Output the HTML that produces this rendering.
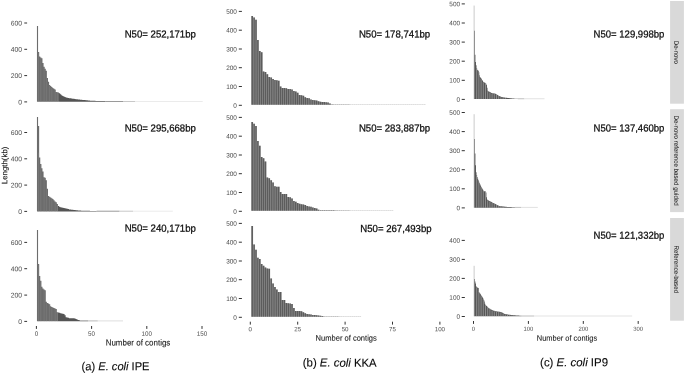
<!DOCTYPE html>
<html lang="en"><head><meta charset="utf-8"><title>Contig length distributions</title>
<style>html,body{margin:0;padding:0;background:#fff}body{width:685px;height:374px;overflow:hidden}svg{display:block}text{font-family:"Liberation Sans", Arial, Helvetica, sans-serif;text-rendering:geometricPrecision}.yt{fill:#4d4d4d;text-anchor:end}.xt{fill:#4d4d4d;text-anchor:middle}.ax{fill:#1a1a1a;text-anchor:middle;stroke:#1a1a1a;stroke-width:.1px}.n50{font-size:10.2px;fill:#0a0a0a;stroke:#0a0a0a;stroke-width:.25px}.cap{font-size:11.7px;fill:#0a0a0a;stroke:#0a0a0a;stroke-width:.12px}.st{font-size:6.2px;fill:#1a1a1a;text-anchor:middle;stroke:#1a1a1a;stroke-width:.08px}</style></head><body>
<svg width="685" height="374" viewBox="0 0 685 374">
<rect width="685" height="374" fill="#fff"/>
<g>
<text class="yt" font-size="6.8" x="22.1" y="25.53" transform="rotate(0.05 22.1 25.53)">600</text>
<text class="yt" font-size="6.8" x="22.1" y="51.83" transform="rotate(0.05 22.1 51.83)">400</text>
<text class="yt" font-size="6.8" x="22.1" y="78.13" transform="rotate(0.05 22.1 78.13)">200</text>
<text class="yt" font-size="6.8" x="22.1" y="104.43" transform="rotate(0.05 22.1 104.43)">0</text>
<path d="M24.3 23H27.1M24.3 49.3H27.1M24.3 75.6H27.1M24.3 101.9H27.1" stroke="#333333" stroke-width="1" fill="none"/>
<rect x="105.4" y="101" width="17.6" height="1" fill="#9a9a9a"/>
<rect x="123" y="101" width="12" height="1" fill="#c8c8c8"/>
<rect x="135" y="101" width="67.7" height="1" fill="#ebebeb"/>
<path d="M36.95 101.8V25.9 H38.06V52.1 H39.16V56.59 H40.26V57.38 H41.37V58.17 H42.47V63.12 H43.58V66.72 H44.68V68.69 H45.78V70.84 H46.89V77.9 H47.99V81.84 H49.1V85.12 H50.2V86.09 H51.3V87.06 H52.41V87.88 H53.51V88.69 H54.62V89.5 H55.72V92.03 H56.82V92.26 H57.93V92.48 H59.03V101.8 Z" fill="#6c6c6c"/>
<path d="M59.03 101.8V93.37 H60.14V94.34 H61.24V95.32 H62.34V95.95 H63.45V96.5 H64.55V97.05 H65.66V97.6 H66.76V97.79 H67.86V97.98 H68.97V98.16 H70.07V98.35 H71.18V98.54 H72.28V98.7 H73.38V98.84 H74.49V98.98 H75.59V99.13 H76.7V99.27 H77.8V99.42 H78.9V99.56 H80.01V99.71 H81.11V99.81 H82.22V99.91 H83.32V100.01 H84.42V100.12 H85.53V100.22 H86.63V100.32 H87.74V100.43 H88.84V100.53 H89.94V100.63 H91.05V100.73 H92.15V100.81 H93.26V100.83 H94.36V100.86 H95.46V100.88 H96.57V100.91 H97.67V100.93 H98.78V100.96 H99.88V100.98 H100.98V101.01 H102.09V101.03 H103.19V101.05 H104.3V101.08 H105.4V101.8 Z" fill="#545454"/>
<path d="M38.6 101.8V52.6M40.81 101.8V57.88M44.12 101.8V67.21M46.33 101.8V71.3M49.64 101.8V85.61M51.85 101.8V87.56M55.16 101.8V90M57.37 101.8V92.75" stroke="#8a8a8a" stroke-width="0.6" fill="none" opacity="0.7"/>
<text class="n50" x="124.7" y="37.5" transform="rotate(0.05 124.7 37.5)" textLength="71.2" lengthAdjust="spacingAndGlyphs">N50= 252,171bp</text>
</g>
<g>
<text class="yt" font-size="6.8" x="22.1" y="135.03" transform="rotate(0.05 22.1 135.03)">600</text>
<text class="yt" font-size="6.8" x="22.1" y="161.33" transform="rotate(0.05 22.1 161.33)">400</text>
<text class="yt" font-size="6.8" x="22.1" y="187.63" transform="rotate(0.05 22.1 187.63)">200</text>
<text class="yt" font-size="6.8" x="22.1" y="213.93" transform="rotate(0.05 22.1 213.93)">0</text>
<path d="M24.3 132.5H27.1M24.3 158.8H27.1M24.3 185.1H27.1M24.3 211.4H27.1" stroke="#333333" stroke-width="1" fill="none"/>
<rect x="96.57" y="210.7" width="23.03" height="1" fill="#9a9a9a"/>
<rect x="119.6" y="210.7" width="13.4" height="1" fill="#c8c8c8"/>
<rect x="133" y="210.7" width="39.8" height="1" fill="#ebebeb"/>
<path d="M36.95 211.5V117 H38.06V126 H39.16V157.38 H40.26V164.09 H41.37V168.17 H42.47V171.57 H43.58V177.35 H44.68V177.79 H45.78V180.23 H46.89V188.73 H47.99V196.12 H49.1V196.77 H50.2V197.48 H51.3V198.23 H52.41V199.09 H53.51V200.32 H54.62V201.55 H55.72V202.19 H56.82V204.09 H57.93V211.5 Z" fill="#6c6c6c"/>
<path d="M57.93 211.5V205.96 H59.03V206.71 H60.14V207.29 H61.24V207.55 H62.34V207.81 H63.45V208.07 H64.55V208.33 H65.66V208.59 H66.76V208.86 H67.86V209.12 H68.97V209.39 H70.07V209.62 H71.18V209.73 H72.28V209.84 H73.38V209.95 H74.49V210.06 H75.59V210.17 H76.7V210.28 H77.8V210.39 H78.9V210.5 H80.01V210.6 H81.11V210.63 H82.22V210.67 H83.32V210.7 H84.42V210.73 H85.53V210.77 H86.63V210.8 H87.74V210.83 H88.84V210.86 H89.94V210.9 H91.05V210.93 H92.15V210.96 H93.26V211 H94.36V211.03 H95.46V211.06 H96.57V211.5 Z" fill="#545454"/>
<path d="M38.6 211.5V152.5M40.81 211.5V164.55M44.12 211.5V177.85M46.33 211.5V180.69M49.64 211.5V197.27M51.85 211.5V198.72M55.16 211.5V202.04M57.37 211.5V204.57" stroke="#8a8a8a" stroke-width="0.6" fill="none" opacity="0.7"/>
<text class="n50" x="124.7" y="131.4" transform="rotate(0.05 124.7 131.4)" textLength="71.2" lengthAdjust="spacingAndGlyphs">N50= 295,668bp</text>
</g>
<g>
<text class="yt" font-size="6.8" x="22.1" y="244.93" transform="rotate(0.05 22.1 244.93)">600</text>
<text class="yt" font-size="6.8" x="22.1" y="271.23" transform="rotate(0.05 22.1 271.23)">400</text>
<text class="yt" font-size="6.8" x="22.1" y="297.63" transform="rotate(0.05 22.1 297.63)">200</text>
<text class="yt" font-size="6.8" x="22.1" y="323.93" transform="rotate(0.05 22.1 323.93)">0</text>
<path d="M24.3 242.4H27.1M24.3 268.7H27.1M24.3 295.1H27.1M24.3 321.4H27.1" stroke="#333333" stroke-width="1" fill="none"/>
<rect x="80.01" y="320.4" width="7.99" height="1" fill="#8c8c8c"/>
<rect x="88" y="320.4" width="9.8" height="1" fill="#b8b8b8"/>
<rect x="97.8" y="320.4" width="25.2" height="1" fill="#dedede"/>
<path d="M36.95 321.2V229.9 H38.06V264.1 H39.16V275.93 H40.26V280.64 H41.37V286.68 H42.47V288.47 H43.58V289.42 H44.68V290.37 H45.78V301.64 H46.89V302.9 H47.99V303.5 H49.1V304.23 H50.2V306.17 H51.3V307 H52.41V307.51 H53.51V308.02 H54.62V308.53 H55.72V309.04 H56.82V312.22 H57.93V321.2 Z" fill="#6c6c6c"/>
<path d="M57.93 321.2V312.54 H59.03V312.86 H60.14V313.18 H61.24V313.48 H62.34V313.78 H63.45V314.07 H64.55V315.27 H65.66V317.2 H66.76V317.53 H67.86V317.85 H68.97V318.18 H70.07V318.24 H71.18V318.29 H72.28V318.33 H73.38V318.37 H74.49V318.58 H75.59V319.02 H76.7V319.47 H77.8V319.92 H78.9V320.15 H80.01V321.2 Z" fill="#545454"/>
<path d="M38.6 321.2V264.6M40.81 321.2V281.09M44.12 321.2V289.91M46.33 321.2V302.13M49.64 321.2V304.72M51.85 321.2V307.49M55.16 321.2V309.03M57.37 321.2V312.72" stroke="#8a8a8a" stroke-width="0.6" fill="none" opacity="0.7"/>
<text class="n50" x="124.7" y="231.6" transform="rotate(0.05 124.7 231.6)" textLength="71.2" lengthAdjust="spacingAndGlyphs">N50= 240,171bp</text>
</g>
<g>
<text class="yt" font-size="6.45" x="236.9" y="13.81" transform="rotate(0.05 236.9 13.81)">500</text>
<text class="yt" font-size="6.45" x="236.9" y="32.61" transform="rotate(0.05 236.9 32.61)">400</text>
<text class="yt" font-size="6.45" x="236.9" y="51.41" transform="rotate(0.05 236.9 51.41)">300</text>
<text class="yt" font-size="6.45" x="236.9" y="70.11" transform="rotate(0.05 236.9 70.11)">200</text>
<text class="yt" font-size="6.45" x="236.9" y="88.91" transform="rotate(0.05 236.9 88.91)">100</text>
<text class="yt" font-size="6.45" x="236.9" y="107.71" transform="rotate(0.05 236.9 107.71)">0</text>
<path d="M238.8 11.4H241.9M238.8 30.2H241.9M238.8 49H241.9M238.8 67.7H241.9M238.8 86.5H241.9M238.8 105.3H241.9" stroke="#333333" stroke-width="1" fill="none"/>
<path d="M251.25 104.8V16 H253.14V17.6 H255.04V19.8 H256.94V40 H258.83V50.9 H260.73V52.2 H262.62V71.4 H264.52V71.9 H266.42V74.3 H268.31V77 H270.21V77.6 H272.1V79 H274V80 H275.9V80.3 H277.79V80.7 H279.69V86.6 H281.58V87.9 H283.48V87.9 H285.38V88.2 H287.27V89.1 H289.17V89.1 H291.06V89.6 H292.96V91.1 H294.86V91.6 H296.75V92.8 H298.65V95 H300.54V95.3 H302.44V95.8 H304.34V97.2 H306.23V98 H308.13V98.3 H310.02V99.5 H311.92V100 H313.82V100.2 H315.71V100.4 H317.61V101.2 H319.5V101.7 H321.4V101.9 H323.3V102 H325.19V102.2 H327.09V102.6 H328.98V103.6 H330.88V104.1 H332.78V104.8 Z" fill="#c0c0c0"/>
<path d="M251.42 104.8V16h1.55V104.8ZM253.31 104.8V17.6h1.55V104.8ZM255.21 104.8V19.8h1.55V104.8ZM257.11 104.8V40h1.55V104.8ZM259 104.8V50.9h1.55V104.8ZM260.9 104.8V52.2h1.55V104.8ZM262.79 104.8V71.4h1.55V104.8ZM264.69 104.8V71.9h1.55V104.8ZM266.59 104.8V74.3h1.55V104.8ZM268.48 104.8V77h1.55V104.8ZM270.38 104.8V77.6h1.55V104.8ZM272.27 104.8V79h1.55V104.8ZM274.17 104.8V80h1.55V104.8ZM276.07 104.8V80.3h1.55V104.8ZM277.96 104.8V80.7h1.55V104.8ZM279.86 104.8V86.6h1.55V104.8ZM281.75 104.8V87.9h1.55V104.8ZM283.65 104.8V87.9h1.55V104.8ZM285.55 104.8V88.2h1.55V104.8ZM287.44 104.8V89.1h1.55V104.8ZM289.34 104.8V89.1h1.55V104.8ZM291.23 104.8V89.6h1.55V104.8ZM293.13 104.8V91.1h1.55V104.8ZM295.03 104.8V91.6h1.55V104.8ZM296.92 104.8V92.8h1.55V104.8ZM298.82 104.8V95h1.55V104.8ZM300.71 104.8V95.3h1.55V104.8ZM302.61 104.8V95.8h1.55V104.8ZM304.51 104.8V97.2h1.55V104.8ZM306.4 104.8V98h1.55V104.8ZM308.3 104.8V98.3h1.55V104.8ZM310.19 104.8V99.5h1.55V104.8ZM312.09 104.8V100h1.55V104.8ZM313.99 104.8V100.2h1.55V104.8ZM315.88 104.8V100.4h1.55V104.8ZM317.78 104.8V101.2h1.55V104.8ZM319.67 104.8V101.7h1.55V104.8ZM321.57 104.8V101.9h1.55V104.8ZM323.47 104.8V102h1.55V104.8ZM325.36 104.8V102.2h1.55V104.8ZM327.26 104.8V102.6h1.55V104.8ZM329.15 104.8V103.6h1.55V104.8ZM331.05 104.8V104.1h1.55V104.8Z" fill="#5c5c5c"/>
<path d="M331.03 104h1.59v1h-1.59zM332.93 104h1.59v1h-1.59zM334.82 104h1.59v1h-1.59zM336.72 104h1.59v1h-1.59zM338.62 104h1.59v1h-1.59zM340.51 104h1.59v1h-1.59zM342.41 104h1.59v1h-1.59zM344.3 104h1.59v1h-1.59zM346.2 104h1.59v1h-1.59zM348.1 104h1.59v1h-1.59z" fill="#c4c4c4"/>
<path d="M349.99 104h1.59v1h-1.59zM351.89 104h1.59v1h-1.59zM353.78 104h1.59v1h-1.59zM355.68 104h1.59v1h-1.59zM357.58 104h1.59v1h-1.59zM359.47 104h1.59v1h-1.59zM361.37 104h1.59v1h-1.59zM363.26 104h1.59v1h-1.59zM365.16 104h1.59v1h-1.59zM367.06 104h1.59v1h-1.59zM368.95 104h1.59v1h-1.59zM370.85 104h1.59v1h-1.59zM372.74 104h1.59v1h-1.59zM374.64 104h1.59v1h-1.59zM376.54 104h1.59v1h-1.59zM378.43 104h1.59v1h-1.59zM380.33 104h1.59v1h-1.59zM382.22 104h1.59v1h-1.59zM384.12 104h1.59v1h-1.59zM386.02 104h1.59v1h-1.59zM387.91 104h1.59v1h-1.59zM389.81 104h1.59v1h-1.59zM391.7 104h1.59v1h-1.59zM393.6 104h1.59v1h-1.59zM395.5 104h1.59v1h-1.59zM397.39 104h1.59v1h-1.59zM399.29 104h1.59v1h-1.59zM401.18 104h1.59v1h-1.59zM403.08 104h1.59v1h-1.59zM404.98 104h1.59v1h-1.59zM406.87 104h1.59v1h-1.59zM408.77 104h1.59v1h-1.59zM410.66 104h1.59v1h-1.59zM412.56 104h1.59v1h-1.59zM414.46 104h1.59v1h-1.59zM416.35 104h1.59v1h-1.59zM418.25 104h1.59v1h-1.59zM420.14 104h1.59v1h-1.59zM422.04 104h1.59v1h-1.59zM423.94 104h1.59v1h-1.59z" fill="#dedede"/>
<text class="n50" x="358.9" y="37.4" transform="rotate(0.05 358.9 37.4)" textLength="71.3" lengthAdjust="spacingAndGlyphs">N50= 178,741bp</text>
</g>
<g>
<text class="yt" font-size="6.45" x="236.9" y="119.81" transform="rotate(0.05 236.9 119.81)">500</text>
<text class="yt" font-size="6.45" x="236.9" y="138.61" transform="rotate(0.05 236.9 138.61)">400</text>
<text class="yt" font-size="6.45" x="236.9" y="157.41" transform="rotate(0.05 236.9 157.41)">300</text>
<text class="yt" font-size="6.45" x="236.9" y="176.11" transform="rotate(0.05 236.9 176.11)">200</text>
<text class="yt" font-size="6.45" x="236.9" y="194.91" transform="rotate(0.05 236.9 194.91)">100</text>
<text class="yt" font-size="6.45" x="236.9" y="213.71" transform="rotate(0.05 236.9 213.71)">0</text>
<path d="M238.8 117.4H241.9M238.8 136.2H241.9M238.8 155H241.9M238.8 173.7H241.9M238.8 192.5H241.9M238.8 211.3H241.9" stroke="#333333" stroke-width="1" fill="none"/>
<path d="M251.25 210.8V122 H253.14V123.8 H255.04V125.9 H256.94V141.1 H258.83V145.8 H260.73V157.1 H262.62V158.2 H264.52V161.4 H266.42V177.6 H268.31V178.3 H270.21V180.3 H272.1V182.5 H274V186.2 H275.9V186.7 H277.79V186.7 H279.69V192.1 H281.58V193.9 H283.48V193.9 H285.38V193.9 H287.27V197.1 H289.17V197.3 H291.06V198.5 H292.96V201 H294.86V201.7 H296.75V203 H298.65V203.8 H300.54V204.2 H302.44V204.5 H304.34V204.9 H306.23V206 H308.13V206.4 H310.02V206.7 H311.92V207.4 H313.82V207.9 H315.71V208.6 H317.61V209.7 H319.5V210.8 Z" fill="#c0c0c0"/>
<path d="M251.42 210.8V122h1.55V210.8ZM253.31 210.8V123.8h1.55V210.8ZM255.21 210.8V125.9h1.55V210.8ZM257.11 210.8V141.1h1.55V210.8ZM259 210.8V145.8h1.55V210.8ZM260.9 210.8V157.1h1.55V210.8ZM262.79 210.8V158.2h1.55V210.8ZM264.69 210.8V161.4h1.55V210.8ZM266.59 210.8V177.6h1.55V210.8ZM268.48 210.8V178.3h1.55V210.8ZM270.38 210.8V180.3h1.55V210.8ZM272.27 210.8V182.5h1.55V210.8ZM274.17 210.8V186.2h1.55V210.8ZM276.07 210.8V186.7h1.55V210.8ZM277.96 210.8V186.7h1.55V210.8ZM279.86 210.8V192.1h1.55V210.8ZM281.75 210.8V193.9h1.55V210.8ZM283.65 210.8V193.9h1.55V210.8ZM285.55 210.8V193.9h1.55V210.8ZM287.44 210.8V197.1h1.55V210.8ZM289.34 210.8V197.3h1.55V210.8ZM291.23 210.8V198.5h1.55V210.8ZM293.13 210.8V201h1.55V210.8ZM295.03 210.8V201.7h1.55V210.8ZM296.92 210.8V203h1.55V210.8ZM298.82 210.8V203.8h1.55V210.8ZM300.71 210.8V204.2h1.55V210.8ZM302.61 210.8V204.5h1.55V210.8ZM304.51 210.8V204.9h1.55V210.8ZM306.4 210.8V206h1.55V210.8ZM308.3 210.8V206.4h1.55V210.8ZM310.19 210.8V206.7h1.55V210.8ZM312.09 210.8V207.4h1.55V210.8ZM313.99 210.8V207.9h1.55V210.8ZM315.88 210.8V208.6h1.55V210.8ZM317.78 210.8V209.7h1.55V210.8Z" fill="#5c5c5c"/>
<path d="M319.66 210h1.59v1h-1.59zM321.55 210h1.59v1h-1.59zM323.45 210h1.59v1h-1.59zM325.34 210h1.59v1h-1.59zM327.24 210h1.59v1h-1.59zM329.14 210h1.59v1h-1.59zM331.03 210h1.59v1h-1.59zM332.93 210h1.59v1h-1.59zM334.82 210h1.59v1h-1.59z" fill="#9a9a9a"/>
<path d="M334.82 210h1.59v1h-1.59zM336.72 210h1.59v1h-1.59zM338.62 210h1.59v1h-1.59zM340.51 210h1.59v1h-1.59zM342.41 210h1.59v1h-1.59zM344.3 210h1.59v1h-1.59zM346.2 210h1.59v1h-1.59zM348.1 210h1.59v1h-1.59z" fill="#c4c4c4"/>
<path d="M349.99 210h1.59v1h-1.59zM351.89 210h1.59v1h-1.59zM353.78 210h1.59v1h-1.59zM355.68 210h1.59v1h-1.59zM357.58 210h1.59v1h-1.59zM359.47 210h1.59v1h-1.59zM361.37 210h1.59v1h-1.59zM363.26 210h1.59v1h-1.59zM365.16 210h1.59v1h-1.59zM367.06 210h1.59v1h-1.59zM368.95 210h1.59v1h-1.59zM370.85 210h1.59v1h-1.59zM372.74 210h1.59v1h-1.59zM374.64 210h1.59v1h-1.59zM376.54 210h1.59v1h-1.59zM378.43 210h1.59v1h-1.59zM380.33 210h1.59v1h-1.59zM382.22 210h1.59v1h-1.59zM384.12 210h1.59v1h-1.59zM386.02 210h1.59v1h-1.59zM387.91 210h1.59v1h-1.59zM389.81 210h1.59v1h-1.59zM391.7 210h1.59v1h-1.59z" fill="#dedede"/>
<text class="n50" x="358.9" y="131.4" transform="rotate(0.05 358.9 131.4)" textLength="71.3" lengthAdjust="spacingAndGlyphs">N50= 283,887bp</text>
</g>
<g>
<text class="yt" font-size="6.45" x="236.9" y="225.81" transform="rotate(0.05 236.9 225.81)">500</text>
<text class="yt" font-size="6.45" x="236.9" y="244.61" transform="rotate(0.05 236.9 244.61)">400</text>
<text class="yt" font-size="6.45" x="236.9" y="263.41" transform="rotate(0.05 236.9 263.41)">300</text>
<text class="yt" font-size="6.45" x="236.9" y="282.11" transform="rotate(0.05 236.9 282.11)">200</text>
<text class="yt" font-size="6.45" x="236.9" y="300.91" transform="rotate(0.05 236.9 300.91)">100</text>
<text class="yt" font-size="6.45" x="236.9" y="319.71" transform="rotate(0.05 236.9 319.71)">0</text>
<path d="M238.8 223.4H241.9M238.8 242.2H241.9M238.8 261H241.9M238.8 279.7H241.9M238.8 298.5H241.9M238.8 317.3H241.9" stroke="#333333" stroke-width="1" fill="none"/>
<path d="M251.25 316.8V225.9 H253.14V244.4 H255.04V249.8 H256.94V257.7 H258.83V259 H260.73V264.1 H262.62V265.8 H264.52V267.4 H266.42V268.5 H268.31V268.8 H270.21V278.4 H272.1V283.5 H274V286.9 H275.9V289.5 H277.79V292 H279.69V292 H281.58V299.9 H283.48V299.9 H285.38V302.9 H287.27V303.3 H289.17V303.4 H291.06V304.1 H292.96V308 H294.86V311 H296.75V311 H298.65V311 H300.54V311.3 H302.44V312.2 H304.34V313.2 H306.23V313.9 H308.13V314.2 H310.02V314.5 H311.92V314.9 H313.82V315 H315.71V315.2 H317.61V315.4 H319.5V315.7 H321.4V316.1 H323.3V316.2 H325.19V316.8 Z" fill="#c0c0c0"/>
<path d="M251.42 316.8V225.9h1.55V316.8ZM253.31 316.8V244.4h1.55V316.8ZM255.21 316.8V249.8h1.55V316.8ZM257.11 316.8V257.7h1.55V316.8ZM259 316.8V259h1.55V316.8ZM260.9 316.8V264.1h1.55V316.8ZM262.79 316.8V265.8h1.55V316.8ZM264.69 316.8V267.4h1.55V316.8ZM266.59 316.8V268.5h1.55V316.8ZM268.48 316.8V268.8h1.55V316.8ZM270.38 316.8V278.4h1.55V316.8ZM272.27 316.8V283.5h1.55V316.8ZM274.17 316.8V286.9h1.55V316.8ZM276.07 316.8V289.5h1.55V316.8ZM277.96 316.8V292h1.55V316.8ZM279.86 316.8V292h1.55V316.8ZM281.75 316.8V299.9h1.55V316.8ZM283.65 316.8V299.9h1.55V316.8ZM285.55 316.8V302.9h1.55V316.8ZM287.44 316.8V303.3h1.55V316.8ZM289.34 316.8V303.4h1.55V316.8ZM291.23 316.8V304.1h1.55V316.8ZM293.13 316.8V308h1.55V316.8ZM295.03 316.8V311h1.55V316.8ZM296.92 316.8V311h1.55V316.8ZM298.82 316.8V311h1.55V316.8ZM300.71 316.8V311.3h1.55V316.8ZM302.61 316.8V312.2h1.55V316.8ZM304.51 316.8V313.2h1.55V316.8ZM306.4 316.8V313.9h1.55V316.8ZM308.3 316.8V314.2h1.55V316.8ZM310.19 316.8V314.5h1.55V316.8ZM312.09 316.8V314.9h1.55V316.8ZM313.99 316.8V315h1.55V316.8ZM315.88 316.8V315.2h1.55V316.8ZM317.78 316.8V315.4h1.55V316.8ZM319.67 316.8V315.7h1.55V316.8ZM321.57 316.8V316.1h1.55V316.8ZM323.47 316.8V316.2h1.55V316.8Z" fill="#5c5c5c"/>
<path d="M323.45 316h1.59v1h-1.59zM325.34 316h1.59v1h-1.59zM327.24 316h1.59v1h-1.59zM329.14 316h1.59v1h-1.59zM331.03 316h1.59v1h-1.59zM332.93 316h1.59v1h-1.59zM334.82 316h1.59v1h-1.59zM336.72 316h1.59v1h-1.59zM338.62 316h1.59v1h-1.59z" fill="#c4c4c4"/>
<path d="M338.62 316h1.59v1h-1.59zM340.51 316h1.59v1h-1.59zM342.41 316h1.59v1h-1.59zM344.3 316h1.59v1h-1.59zM346.2 316h1.59v1h-1.59zM348.1 316h1.59v1h-1.59zM349.99 316h1.59v1h-1.59zM351.89 316h1.59v1h-1.59zM353.78 316h1.59v1h-1.59zM355.68 316h1.59v1h-1.59zM357.58 316h1.59v1h-1.59zM359.47 316h1.59v1h-1.59z" fill="#dcdcdc"/>
<text class="n50" x="360.3" y="232" transform="rotate(0.05 360.3 232)" textLength="71.3" lengthAdjust="spacingAndGlyphs">N50= 267,493bp</text>
</g>
<g>
<text class="yt" font-size="6.45" x="460.1" y="6.21" transform="rotate(0.05 460.1 6.21)">500</text>
<text class="yt" font-size="6.45" x="460.1" y="25.31" transform="rotate(0.05 460.1 25.31)">400</text>
<text class="yt" font-size="6.45" x="460.1" y="44.41" transform="rotate(0.05 460.1 44.41)">300</text>
<text class="yt" font-size="6.45" x="460.1" y="63.51" transform="rotate(0.05 460.1 63.51)">200</text>
<text class="yt" font-size="6.45" x="460.1" y="82.61" transform="rotate(0.05 460.1 82.61)">100</text>
<text class="yt" font-size="6.45" x="460.1" y="101.71" transform="rotate(0.05 460.1 101.71)">0</text>
<path d="M461.7 3.9H464.85M461.7 23H464.85M461.7 42.1H464.85M461.7 61.2H464.85M461.7 80.3H464.85M461.7 99.4H464.85" stroke="#333333" stroke-width="1" fill="none"/>
<rect x="517.69" y="98.25" width="6.71" height="1" fill="#c0c0c0"/>
<rect x="524.4" y="98.25" width="20.1" height="1" fill="#e2e2e2"/>
<rect x="473.72" y="5.55" width="0.75" height="93.5" fill="#b9b9b9"/>
<path d="M474.32 99.05V30.8 H474.87V54.7 H475.42V62 H475.97V65.3 H476.52V68 H477.07V69.73 H477.62V70.25 H478.17V70.76 H478.72V72.16 H479.26V75.24 H479.81V77.05 H480.36V77.7 H480.91V78.36 H481.46V79.02 H482.01V80.03 H482.56V81.09 H483.11V81.9 H483.66V82.22 H484.21V82.53 H484.75V82.85 H485.3V83.16 H485.85V83.7 H486.4V84.98 H486.95V87.65 H487.5V90.84 H488.05V91.14 H488.6V91.43 H489.15V91.73 H489.7V92.02 H490.24V92.34 H490.79V92.68 H491.34V93.02 H491.89V93.23 H492.44V93.28 H492.99V93.33 H493.54V93.39 H494.09V93.44 H494.64V93.49 H495.19V93.78 H495.73V94.11 H496.28V94.45 H496.83V94.78 H497.38V95.11 H497.93V95.4 H498.48V95.68 H499.03V95.95 H499.58V96.23 H500.13V96.5 H500.68V96.78 H501.22V96.96 H501.77V97.06 H502.32V97.17 H502.87V97.27 H503.42V97.38 H503.97V97.48 H504.52V97.58 H505.07V97.69 H505.62V97.75 H506.17V97.81 H506.71V97.87 H507.26V97.93 H507.81V97.99 H508.36V98.05 H508.91V98.11 H509.46V98.16 H510.01V98.22 H510.56V98.28 H511.11V98.34 H511.66V98.4 H512.2V98.46 H512.75V98.52 H513.3V98.58 H513.85V98.62 H514.4V98.64 H514.95V98.67 H515.5V98.69 H516.05V98.72 H516.6V98.75 H517.15V98.77 H517.69V99.05 Z" fill="#555555"/>
<path d="M476.7 99.05V67.93M478.9 99.05V72.06M481.1 99.05V78.66M483.3 99.05V82.26M485.5 99.05V83.51M487.7 99.05V91.2M489.9 99.05V92.38M492.1 99.05V93.62M494.3 99.05V93.83M496.5 99.05V94.81M498.7 99.05V96.05M500.9 99.05V97.15M503.1 99.05V97.66M505.3 99.05V98.08" stroke="#d0d0d0" stroke-width="0.55" fill="none" opacity="0.85"/>
<text class="n50" x="593.6" y="37.4" transform="rotate(0.05 593.6 37.4)" textLength="70.8" lengthAdjust="spacingAndGlyphs">N50= 129,998bp</text>
</g>
<g>
<text class="yt" font-size="6.45" x="460.1" y="114.81" transform="rotate(0.05 460.1 114.81)">500</text>
<text class="yt" font-size="6.45" x="460.1" y="133.91" transform="rotate(0.05 460.1 133.91)">400</text>
<text class="yt" font-size="6.45" x="460.1" y="153.01" transform="rotate(0.05 460.1 153.01)">300</text>
<text class="yt" font-size="6.45" x="460.1" y="172.01" transform="rotate(0.05 460.1 172.01)">200</text>
<text class="yt" font-size="6.45" x="460.1" y="191.11" transform="rotate(0.05 460.1 191.11)">100</text>
<text class="yt" font-size="6.45" x="460.1" y="210.21" transform="rotate(0.05 460.1 210.21)">0</text>
<path d="M461.7 112.5H464.85M461.7 131.6H464.85M461.7 150.7H464.85M461.7 169.7H464.85M461.7 188.8H464.85M461.7 207.9H464.85" stroke="#333333" stroke-width="1" fill="none"/>
<rect x="514.95" y="206.9" width="6.05" height="1" fill="#c0c0c0"/>
<rect x="521" y="206.9" width="16.8" height="1" fill="#e2e2e2"/>
<rect x="473.72" y="114.2" width="0.75" height="93.5" fill="#b9b9b9"/>
<path d="M474.32 207.7V139.1 H474.87V153.5 H475.42V165.2 H475.97V172.37 H476.52V175.09 H477.07V177.07 H477.62V178.77 H478.17V180.23 H478.72V181.68 H479.26V183.05 H479.81V184.31 H480.36V185.57 H480.91V186.71 H481.46V187.61 H482.01V188.51 H482.56V189.43 H483.11V190.39 H483.66V191.3 H484.21V191.33 H484.75V191.35 H485.3V191.38 H485.85V192.51 H486.4V197.33 H486.95V199.52 H487.5V199.89 H488.05V200.27 H488.6V200.64 H489.15V201.01 H489.7V201.29 H490.24V201.56 H490.79V201.83 H491.34V202.11 H491.89V202.38 H492.44V202.66 H492.99V202.94 H493.54V203.22 H494.09V203.5 H494.64V203.79 H495.19V204.07 H495.73V204.35 H496.28V204.63 H496.83V204.9 H497.38V205.18 H497.93V205.45 H498.48V205.73 H499.03V206 H499.58V206.14 H500.13V206.19 H500.68V206.25 H501.22V206.31 H501.77V206.37 H502.32V206.43 H502.87V206.48 H503.42V206.54 H503.97V206.6 H504.52V206.66 H505.07V206.71 H505.62V206.77 H506.17V206.83 H506.71V206.89 H507.26V206.92 H507.81V206.95 H508.36V206.97 H508.91V207 H509.46V207.03 H510.01V207.05 H510.56V207.08 H511.11V207.1 H511.66V207.13 H512.2V207.16 H512.75V207.18 H513.3V207.21 H513.85V207.23 H514.4V207.26 H514.95V207.7 Z" fill="#555555"/>
<path d="M476.7 207.7V175.15M478.9 207.7V181.84M481.1 207.7V186.96M483.3 207.7V190.65M485.5 207.7V191.78M487.7 207.7V200.24M489.9 207.7V201.65M492.1 207.7V202.75M494.3 207.7V203.87M496.5 207.7V205M498.7 207.7V206.1M500.9 207.7V206.65M503.1 207.7V206.88" stroke="#d0d0d0" stroke-width="0.55" fill="none" opacity="0.85"/>
<text class="n50" x="593.6" y="131.5" transform="rotate(0.05 593.6 131.5)" textLength="70.8" lengthAdjust="spacingAndGlyphs">N50= 137,460bp</text>
</g>
<g>
<text class="yt" font-size="6.45" x="460.1" y="242.71" transform="rotate(0.05 460.1 242.71)">400</text>
<text class="yt" font-size="6.45" x="460.1" y="261.71" transform="rotate(0.05 460.1 261.71)">300</text>
<text class="yt" font-size="6.45" x="460.1" y="280.71" transform="rotate(0.05 460.1 280.71)">200</text>
<text class="yt" font-size="6.45" x="460.1" y="299.81" transform="rotate(0.05 460.1 299.81)">100</text>
<text class="yt" font-size="6.45" x="460.1" y="318.81" transform="rotate(0.05 460.1 318.81)">0</text>
<path d="M461.7 240.4H464.85M461.7 259.4H464.85M461.7 278.4H464.85M461.7 297.5H464.85M461.7 316.5H464.85" stroke="#333333" stroke-width="1" fill="none"/>
<rect x="521.54" y="315.5" width="12.66" height="1" fill="#c0c0c0"/>
<rect x="534.2" y="315.5" width="98" height="1" fill="#e4e4e4"/>
<rect x="473.72" y="265.8" width="0.75" height="50.5" fill="#b9b9b9"/>
<path d="M474.32 316.3V278.9 H474.87V281.5 H475.42V283.57 H475.97V286.24 H476.52V287.21 H477.07V287.49 H477.62V287.78 H478.17V288.07 H478.72V291.92 H479.26V292.78 H479.81V293.58 H480.36V294.37 H480.91V295.18 H481.46V296 H482.01V296.83 H482.56V297.65 H483.11V298.64 H483.66V299.97 H484.21V301.44 H484.75V303.77 H485.3V304.88 H485.85V305.43 H486.4V305.98 H486.95V306.54 H487.5V307.13 H488.05V307.71 H488.6V308.16 H489.15V308.5 H489.7V308.83 H490.24V309.16 H490.79V309.5 H491.34V309.83 H491.89V310.09 H492.44V310.29 H492.99V310.48 H493.54V310.68 H494.09V310.87 H494.64V311.06 H495.19V311.22 H495.73V311.3 H496.28V311.37 H496.83V311.45 H497.38V311.52 H497.93V311.59 H498.48V311.67 H499.03V311.74 H499.58V311.82 H500.13V311.89 H500.68V311.97 H501.22V312.17 H501.77V312.47 H502.32V312.78 H502.87V313.09 H503.42V313.39 H503.97V313.7 H504.52V313.94 H505.07V314.04 H505.62V314.15 H506.17V314.25 H506.71V314.36 H507.26V314.46 H507.81V314.56 H508.36V314.67 H508.91V314.74 H509.46V314.8 H510.01V314.85 H510.56V314.91 H511.11V314.97 H511.66V315.03 H512.2V315.08 H512.75V315.14 H513.3V315.2 H513.85V315.26 H514.4V315.31 H514.95V315.37 H515.5V315.42 H516.05V315.45 H516.6V315.48 H517.15V315.51 H517.69V315.55 H518.24V315.58 H518.79V315.61 H519.34V315.64 H519.89V315.68 H520.44V315.71 H520.99V315.74 H521.54V316.3 Z" fill="#555555"/>
<path d="M476.7 316.3V287.56M478.9 316.3V291.62M481.1 316.3V295.45M483.3 316.3V298.84M485.5 316.3V305.2M487.7 316.3V307.45M489.9 316.3V309.19M492.1 316.3V310.47M494.3 316.3V311.25M496.5 316.3V311.76M498.7 316.3V312.06M500.9 316.3V312.36M503.1 316.3V313.46M505.3 316.3V314.43M507.5 316.3V314.85M509.7 316.3V315.19M511.9 316.3V315.42" stroke="#d0d0d0" stroke-width="0.55" fill="none" opacity="0.85"/>
<text class="n50" x="593.6" y="238.7" transform="rotate(0.05 593.6 238.7)" textLength="70.8" lengthAdjust="spacingAndGlyphs">N50= 121,332bp</text>
</g>
<g>
<text class="xt" font-size="6.3" x="36.4" y="335.8" transform="rotate(0.05 36.4 335.8)">0</text>
<text class="xt" font-size="6.3" x="91.6" y="335.8" transform="rotate(0.05 91.6 335.8)">50</text>
<text class="xt" font-size="6.3" x="146.8" y="335.8" transform="rotate(0.05 146.8 335.8)">100</text>
<text class="xt" font-size="6.3" x="202" y="335.8" transform="rotate(0.05 202 335.8)">150</text>
<path d="M36.4 326V328.9M91.6 326V328.9M146.8 326V328.9M202 326V328.9" stroke="#333333" stroke-width="1" fill="none"/>
<text class="ax" font-size="8.61" x="138" y="345.6" transform="rotate(0.05 138 345.3)" textLength="64.7" lengthAdjust="spacingAndGlyphs">Number of contigs</text>
<text class="cap" x="81.6" y="370.2" transform="rotate(0.05 81.6 370.2)" textLength="67.9" lengthAdjust="spacingAndGlyphs" xml:space="preserve">(a) <tspan font-style="italic">E. coli</tspan> IPE</text>
</g>
<g>
<text class="xt" font-size="6.2" x="250.3" y="331.2" transform="rotate(0.05 250.3 331.2)">0</text>
<text class="xt" font-size="6.2" x="297.7" y="331.2" transform="rotate(0.05 297.7 331.2)">25</text>
<text class="xt" font-size="6.2" x="345.1" y="331.2" transform="rotate(0.05 345.1 331.2)">50</text>
<text class="xt" font-size="6.2" x="392.5" y="331.2" transform="rotate(0.05 392.5 331.2)">75</text>
<text class="xt" font-size="6.2" x="439.9" y="331.2" transform="rotate(0.05 439.9 331.2)">100</text>
<path d="M250.3 321.7V324.6M297.7 321.7V324.6M345.1 321.7V324.6M392.5 321.7V324.6M439.9 321.7V324.6" stroke="#333333" stroke-width="1" fill="none"/>
<text class="ax" font-size="8.14" x="346.2" y="340.8" transform="rotate(0.05 346.2 340.5)" textLength="61.18" lengthAdjust="spacingAndGlyphs">Number of contigs</text>
<text class="cap" x="302.8" y="366.6" transform="rotate(0.05 302.8 366.6)" textLength="73.9" lengthAdjust="spacingAndGlyphs" xml:space="preserve">(b) <tspan font-style="italic">E. coli</tspan> KKA</text>
</g>
<g>
<text class="xt" font-size="5.9" x="473.5" y="330.8" transform="rotate(0.05 473.5 330.8)">0</text>
<text class="xt" font-size="5.9" x="528.4" y="330.8" transform="rotate(0.05 528.4 330.8)">100</text>
<text class="xt" font-size="5.9" x="583.3" y="330.8" transform="rotate(0.05 583.3 330.8)">200</text>
<text class="xt" font-size="5.9" x="638.2" y="330.8" transform="rotate(0.05 638.2 330.8)">300</text>
<path d="M473.5 321V323.9M528.4 321V323.9M583.3 321V323.9M638.2 321V323.9" stroke="#333333" stroke-width="1" fill="none"/>
<text class="ax" font-size="8.03" x="567" y="340.7" transform="rotate(0.05 567 340.4)" textLength="60.36" lengthAdjust="spacingAndGlyphs">Number of contigs</text>
<text class="cap" x="540.1" y="366.2" transform="rotate(0.05 540.1 366.2)" textLength="67.9" lengthAdjust="spacingAndGlyphs" xml:space="preserve">(c) <tspan font-style="italic">E. coli</tspan> IP9</text>
</g>
<text class="ax" font-size="7.9" transform="translate(7.3 165.4) rotate(-89.95)">Length(kb)</text>
<rect x="670.1" y="1" width="13.8" height="102.7" fill="#d9d9d9"/>
<text class="st" transform="translate(674.3 52.35) rotate(90.05)">De-novo</text>
<rect x="670.1" y="109.2" width="13.8" height="102.9" fill="#d9d9d9"/>
<text class="st" transform="translate(674.3 160.65) rotate(90.05)">De-novo reference based guided</text>
<rect x="670.1" y="218" width="13.8" height="102.7" fill="#d9d9d9"/>
<text class="st" transform="translate(674.3 269.35) rotate(90.05)">Reference-based</text>
</svg></body></html>
